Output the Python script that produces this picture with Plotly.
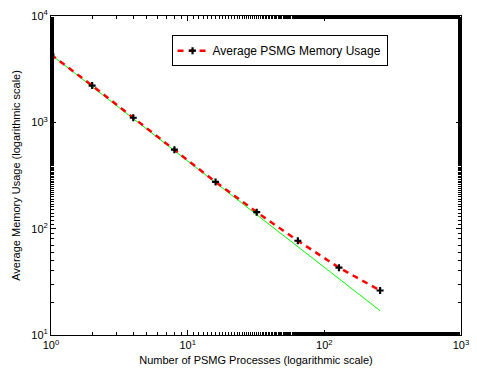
import plotly.graph_objects as go

procs = [1, 2, 4, 8, 16, 32, 64, 128, 256]
memory = [4330, 2218, 1104, 553, 275, 143, 77, 43, 26.2]
ideal = [memory[0] / p for p in procs]

x_tickvals = [1, 10, 100, 1000]
x_ticktext = ["10<sup>0</sup>", "10<sup>1</sup>", "10<sup>2</sup>", "10<sup>3</sup>"]
y_tickvals = [10, 100, 1000, 10000]
y_ticktext = ["10<sup>1</sup>", "10<sup>2</sup>", "10<sup>3</sup>", "10<sup>4</sup>"]

fig = go.Figure()
fig.add_trace(go.Scatter(x=procs, y=ideal, mode="lines",
                         line=dict(color="#00ff00", width=1), showlegend=False))
fig.add_trace(go.Scatter(x=procs, y=memory, mode="lines+markers",
                         name="Average PSMG Memory Usage",
                         line=dict(color="#ff0000", width=2.5, dash="6px,5px"),
                         marker=dict(symbol="cross-thin", size=5, color="black",
                                     line=dict(color="black", width=2.2))))

axis_common = dict(type="log", showgrid=False, zeroline=False, showline=True,
                   linecolor="black", linewidth=1, mirror="allticks",
                   ticks="inside", ticklen=5, tickcolor="black",
                   minor=dict(ticks="inside", ticklen=3, tickcolor="black", showgrid=False),
                   tickfont=dict(size=11, color="black"),
                   title_font=dict(size=11, color="black"))

fig.update_xaxes(range=[0, 3], tickvals=x_tickvals, ticktext=x_ticktext,
                 title_text="Number of PSMG Processes (logarithmic scale)",
                 title_standoff=6, **axis_common)
fig.update_yaxes(range=[1, 4], tickvals=y_tickvals, ticktext=y_ticktext,
                 title_text="Average Memory Usage (logarithmic scale)",
                 title_standoff=8, **axis_common)

fig.update_layout(width=477, height=383,
                  margin=dict(l=51, r=10, t=8, b=48),
                  paper_bgcolor="white", plot_bgcolor="white",
                  font=dict(family="Liberation Sans, Arial, sans-serif", size=11, color="black"),
                  legend=dict(x=0.294, y=0.94, xanchor="left", yanchor="top",
                              bordercolor="black", borderwidth=1, bgcolor="white",
                              font=dict(size=12)))

fig.write_html("out.html")
